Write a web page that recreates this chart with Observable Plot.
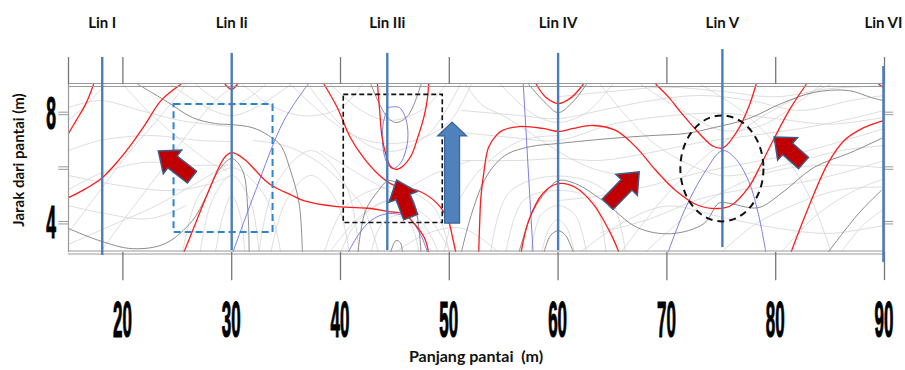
<!DOCTYPE html>
<html><head><meta charset="utf-8">
<script src="https://cdn.jsdelivr.net/npm/d3@7"></script>
<script src="https://cdn.jsdelivr.net/npm/@observablehq/plot@0.6"></script>
<style>body{margin:0;background:#fff;} svg{overflow:visible;}</style>
</head><body><div id="chart"></div>
<script>
// ---- axis / annotation data ----
const xTicks = [20, 30, 40, 50, 60, 70, 80, 90];
const topTicks = [15, 20, 30, 40, 50, 60, 70, 80, 90];
const yTickMarks = [8, 6, 4];
const yTickLabels = [8, 4];
const linNames = ["Lin I", "Lin Ii", "Lin IIi", "Lin IV", "Lin V", "Lin VI"];
const linX = [18.1, 30, 44.3, 60, 75.1, 89.9];
const linTop = [10.04, 10.19, 10.19, 10.19, 10.33, 9.71];
const linBottom = [2.79, 2.97, 2.97, 2.97, 3.08, 2.53];
const redArrowTail = [[26.4, 5.64], [46.5, 4.18], [64.6, 4.65], [82.6, 6.16]];
const redArrowTip = [[23.3, 6.60], [45.2, 5.53], [67.5, 5.83], [79.9, 7.11]];
const blueArrowTail = [50.3, 3.96];
const blueArrowTip = [50.3, 7.66];
const blueBox = [24.7, 33.8, 3.63, 8.32];   // x1, x2, y1, y2
const blackBox = [40.3, 49.4, 3.98, 8.67];
const ellipseCenter = [75.1, 5.96];
const ellipseRadius = [3.82, 1.94];

// ---- contour lines ----
const redLines = [
 [[17.3,9.05],[16.6,8.35],[15.7,7.73],[15.0,7.26]],
 [[25.3,9.05],[23.5,8.46],[22.1,7.62],[20.7,6.82],[19.6,6.27],[18.1,5.64],[16.6,5.24],[15.0,4.91]],
 [[25.6,2.90],[26.7,3.99],[27.9,5.17],[29.0,6.16],[29.5,6.45],[30.0,6.56],[30.5,6.49],[31.3,6.27],[32.2,5.90],[33.1,5.53],[34.0,5.28],[35.4,5.02],[36.6,4.80],[39.7,4.58],[42.8,4.51],[44.4,4.40],[45.8,4.32],[46.7,3.99],[47.7,3.45],[48.1,2.90]],
 [[38.5,9.05],[39.7,8.21],[40.9,7.11],[42.1,6.38],[43.4,5.79],[44.6,5.42],[46.0,5.24],[47.1,5.17],[48.9,4.69],[49.9,4.07],[50.3,3.45],[50.6,2.90]],
 [[43.4,9.05],[43.6,8.10],[43.8,7.18],[44.2,6.45],[44.6,6.05],[45.1,5.94],[45.7,6.05],[46.5,6.45],[47.1,7.11],[47.7,7.91],[48.0,8.57],[48.1,9.05]],
 [[29.4,9.05],[30.0,8.87],[30.5,9.05]],
 [[58.0,9.05],[58.9,8.57],[60.0,8.35],[61.2,8.57],[62.3,9.05]],
 [[52.7,2.90],[52.8,4.07],[52.9,4.91],[53.2,5.90],[53.6,6.74],[54.3,7.18],[54.9,7.37],[56.4,7.51],[58.6,7.44],[60.0,7.33],[61.4,7.44],[63.2,7.55],[65.3,7.37],[67.2,6.74],[69.0,5.90],[70.8,5.17],[72.9,4.62],[74.7,4.51],[75.9,4.62],[77.5,5.28],[78.7,6.16],[79.9,7.11],[81.4,8.21],[82.8,9.05]],
 [[56.6,2.90],[57.3,4.07],[58.6,5.06],[60.0,5.42],[61.6,5.28],[63.2,4.69],[64.7,3.70],[65.6,2.90]],
 [[69.0,9.05],[70.2,8.57],[71.3,8.02],[72.9,7.29],[74.3,6.78],[75.2,6.74],[76.5,7.37],[77.5,8.21],[78.2,9.05]],
 [[81.4,2.90],[83.0,4.54],[84.8,6.16],[86.3,7.00],[88.1,7.47],[89.9,7.73]],
 [[89.5,9.05],[89.9,8.94]]
];
const lilacLines = [
 [[37.0,9.05],[34.8,7.73],[32.2,5.17],[30.1,2.90]],
 [[44.4,8.21],[45.4,8.21],[46.0,7.80],[46.2,7.18],[46.0,6.63],[45.5,6.16],[44.8,5.97],[44.3,6.16],[43.9,6.74],[43.9,7.55],[44.1,7.91],[44.4,8.21]],
 [[40.7,2.90],[41.6,3.52],[42.8,4.07],[44.3,4.32],[46.2,4.18],[47.4,3.52],[48.0,2.90]],
 [[56.8,9.05],[57.7,2.90]],
 [[70.1,2.90],[71.6,4.43],[73.4,5.79],[75.1,6.63],[76.2,6.38],[77.5,5.53],[78.4,4.32],[79.1,2.90]]
];
const darkLines = [
 [[21.4,9.05],[23.9,8.46],[26.4,7.84],[28.5,7.62],[30.0,7.58],[31.9,7.47],[33.4,7.18],[34.5,6.82],[35.4,5.90],[36.2,4.69],[36.5,2.90]],
 [[15.0,3.78],[17.8,3.34],[20.9,3.04],[23.9,3.23],[26.4,4.07],[27.6,4.91],[28.8,5.90],[30.0,6.34],[31.0,5.90],[31.5,4.32],[31.6,2.90]],
 [[41.6,2.90],[42.3,4.43],[43.5,5.17],[44.4,5.53],[45.5,5.35],[46.7,4.80],[47.4,2.90]],
 [[42.8,9.05],[44.2,7.91],[45.1,7.66],[46.2,7.91],[47.4,9.05]],
 [[44.6,2.90],[45.1,3.34],[45.5,3.26],[45.7,2.90]],
 [[57.3,9.05],[58.9,8.35],[60.0,8.02],[61.2,8.35],[62.6,9.05]],
 [[51.1,2.90],[52.0,4.25],[53.2,5.53],[54.3,6.16],[55.4,6.52],[57.5,6.78],[60.0,6.89],[64.7,7.07],[68.5,7.18],[71.8,7.26],[74.3,7.47],[77.5,7.80],[80.5,8.35],[83.5,8.76],[86.7,8.83],[88.8,8.57],[89.9,8.46]],
 [[56.4,2.90],[57.5,4.25],[58.6,4.98],[60.0,5.53],[61.6,5.42],[64.1,4.80],[67.3,3.81],[70.4,3.59],[73.4,3.96],[74.7,4.69],[75.2,4.73],[75.9,4.69],[78.4,4.54],[80.5,5.06],[83.5,6.01],[86.9,6.56],[89.9,7.11]],
 [[58.7,2.90],[59.3,3.52],[60.0,3.70],[60.7,3.52],[61.4,2.90]],
 [[84.8,2.90],[87.6,4.32],[89.7,5.17]]
];
const lightLines = [
 [[15,8.21],[17.9,8.46],[21.6,8.10],[25.3,7.73],[29.9,7.51]],
 [[15,6.63],[17.9,7.00],[22.5,7.18],[27.1,7.00],[29.9,6.96]],
 [[15,5.72],[19.8,5.35],[24.4,5.17],[28.1,5.42],[29.9,5.72]],
 [[15,4.62],[17.9,4.36],[22.5,4.14],[25.8,4.62]],
 [[15,3.63],[17.9,5.17],[20.7,6.63],[23.5,7.91],[25.8,9.05]],
 [[17.9,2.90],[20.7,4.43],[23.5,5.90],[26.2,7.37],[28.5,8.46],[30.4,9.05]],
 [[15,7.73],[17.0,8.46],[18.4,9.05]],
 [[27.1,2.90],[28.2,4.80],[30.0,5.72],[31.7,4.80],[32.5,2.90]],
 [[28.5,2.90],[29.2,4.25],[30.0,4.98],[30.8,4.25],[31.2,2.90]],
 [[26.7,9.05],[30.0,8.28],[33.1,9.05]],
 [[24.4,9.05],[30.0,7.91],[35.4,9.05]],
 [[32.5,2.90],[34.0,5.35],[37.3,6.63],[40.5,5.35],[41.7,2.90]],
 [[33.6,2.90],[35.0,4.80],[37.3,5.72],[39.6,4.80],[40.8,2.90]],
 [[35.4,9.05],[39.1,7.73],[41.9,7.07],[44.4,6.89],[47.4,7.07],[50.1,7.73],[52.0,9.05]],
 [[39.1,9.05],[41.9,8.10],[44.4,7.73],[47.4,8.10],[49.7,9.05]],
 [[39.1,2.97],[41.9,4.25],[45.1,4.98],[48.3,5.72],[52.0,6.27]],
 [[38.2,6.63],[41.9,5.72],[45.1,4.98],[48.3,4.07],[50.1,2.90]],
 [[42.8,2.90],[43.7,3.89],[45.1,4.25],[46.5,3.89],[47.2,2.90]],
 [[51.1,8.10],[56.6,7.91],[60.0,7.80],[63.9,8.10],[68.5,8.46],[73.1,8.65],[77.7,8.46],[82.3,8.10],[86.9,8.46],[90,8.65]],
 [[51.1,6.27],[56.6,6.27],[60.0,6.34],[63.9,6.27],[68.5,6.56],[73.1,6.93],[77.7,7.18],[82.3,7.44],[86.9,7.80],[90,8.10]],
 [[60.0,4.80],[63.9,4.98],[68.5,5.35],[73.1,5.83],[77.7,6.19],[82.3,6.56],[86.9,7.07],[90,7.44]],
 [[63.9,3.63],[68.5,4.14],[73.1,4.87],[77.7,5.24],[82.3,5.46],[86.9,5.90],[90,6.27]],
 [[80.5,2.90],[83.7,4.25],[86.9,5.09],[90,5.61]],
 [[86.0,2.90],[88.0,3.89],[90,4.51]],
 [[57.5,2.90],[58.4,4.25],[60.0,4.62],[61.6,4.25],[62.6,2.90]],
 [[55.2,2.90],[56.8,4.80],[60.0,5.17],[63.2,4.80],[64.4,2.90]],
 [[54.7,9.05],[57.5,8.02],[60.0,7.66],[62.6,8.02],[65.0,9.05]],
 [[67.6,9.05],[72.2,7.91],[75.0,7.37],[78.7,7.55],[82.3,8.46],[84.2,9.05]],
 [[65.8,2.90],[69.5,4.80],[73.1,6.27],[76.8,7.37],[81.4,8.46],[85.1,9.05]],
 [[73.1,9.05],[76.8,8.10],[80.5,6.63],[83.3,4.80],[85.1,2.90]],
 [[49.5,2.90],[50.9,4.80],[53.2,6.08],[56.6,7.00],[60.0,7.18]],
 [[63.9,9.05],[65.8,8.10],[68.5,7.00],[71.3,6.27],[75.0,5.72],[78.7,5.90],[82.3,6.27],[86.0,6.63],[90,6.82]],
 [[40.0,2.90],[41.5,4.00],[44.4,4.80],[47.5,4.00],[49.0,2.90]],
 [[38.5,2.90],[40.5,4.60],[44.4,5.30],[48.5,4.60],[50.0,2.90]],
 [[37.0,9.05],[40.5,7.40],[44.4,6.60],[48.0,7.20],[51.0,9.05]],
 [[58.5,2.90],[59.2,3.80],[60.0,4.10],[60.8,3.80],[61.5,2.90]],
 [[53.8,2.90],[55.5,5.10],[60.0,5.70],[64.5,5.10],[66.2,2.90]],
 [[60.0,8.60],[65.0,8.80],[70.0,8.95],[75.0,8.80],[80.0,8.60],[85.0,8.90],[90,9.00]],
 [[51.0,7.30],[56.0,7.10],[60.0,7.00],[65.0,7.60],[70.0,7.90],[75.0,8.00],[80.0,7.80],[85.0,7.60],[90,7.85]],
 [[68.0,2.90],[72.0,4.30],[76.0,5.30],[80.0,5.90],[85.0,6.10],[90,6.00]],
 [[75.0,2.90],[78.0,3.90],[82.0,4.70],[86.0,5.20],[90,5.30]],
 [[62.0,2.90],[66.0,4.00],[70.0,4.60],[75.0,4.20],[80.0,3.80],[85.0,3.60],[90,3.90]],
 [[15.0,5.20],[18.0,5.80],[22.0,6.20],[26.0,6.10],[29.9,6.10]],
 [[15.0,3.20],[19.0,3.90],[23.0,4.60],[27.0,5.50],[29.5,6.10]],
 [[20.0,9.05],[22.5,8.00],[26.0,6.80],[28.0,6.20],[29.5,5.90]],
 [[25.5,2.90],[27.0,5.00],[30.0,6.00],[33.0,5.00],[34.5,2.90]],
 [[31.0,9.05],[34.0,8.20],[37.0,7.90],[40.0,8.20],[42.0,9.05]],
 [[32.0,7.00],[35.0,6.80],[38.0,6.20],[40.0,5.50],[42.0,4.60],[43.5,2.90]],
 [[51.5,9.05],[53.0,8.30],[55.0,7.90],[57.0,7.40],[60.0,6.60],[63.0,6.00],[66.0,5.70]],
 [[45.0,2.90],[48.0,3.60],[51.0,3.80],[53.0,3.40],[54.5,2.90]]
];

const flat = lines => lines.flatMap((pts, i) => pts.map(([x, y]) => ({x, y, id: i})));
const linData = linNames.map((name, i) => ({name, x: linX[i], top: linTop[i], bottom: linBottom[i]}));
const lineOpts = {x: "x", y: "y", z: "id", curve: "catmull-rom", clip: true};

const chart = Plot.plot({
  width: 905, height: 370,
  marginLeft: 68, marginRight: 21, marginTop: 84, marginBottom: 118,
  x: {domain: [15, 90], axis: null},
  y: {domain: [2.9, 9.05], axis: null},
  style: {background: "#fff", overflow: "visible"},
  marks: [
    Plot.line(flat(lightLines), {...lineOpts, stroke: "#d4d4d4", strokeWidth: 0.8}),
    Plot.line(flat(darkLines), {...lineOpts, stroke: "#7f7f7f", strokeWidth: 0.9}),
    Plot.line(flat(lilacLines), {...lineOpts, stroke: "#6f6fe6", strokeWidth: 0.9}),
    Plot.line(flat(redLines), {...lineOpts, stroke: "#ff1c1c", strokeWidth: 1.3}),
    Plot.ruleY([9.05], {stroke: "#9a9a9a", strokeWidth: 1.2, dy: -1}),
    Plot.ruleY([9.05], {stroke: "#9a9a9a", strokeWidth: 1.2, dy: 2}),
    Plot.ruleY([2.9], {stroke: "#9a9a9a", strokeWidth: 1.2, dy: -1.5}),
    Plot.ruleY([2.9], {stroke: "#9a9a9a", strokeWidth: 1.2, dy: 1.5}),
    Plot.ruleX([15, 90], {stroke: "#9a9a9a", strokeWidth: 1.2}),
    Plot.ruleX(topTicks, {y1: 9.05, y2: 10.04, stroke: "#777", strokeWidth: 1.3}),
    Plot.ruleX(xTicks, {y1: 2.9, y2: 1.87, stroke: "#777", strokeWidth: 1.3}),
    Plot.ruleY(yTickMarks, {x1: 14.1, x2: 15, stroke: "#9a9a9a", dy: -1}),
    Plot.ruleY(yTickMarks, {x1: 14.1, x2: 15, stroke: "#9a9a9a", dy: 1.5}),
    Plot.ruleY(yTickMarks, {x1: 90, x2: 90.85, stroke: "#9a9a9a", dy: -1}),
    Plot.ruleY(yTickMarks, {x1: 90, x2: 90.85, stroke: "#9a9a9a", dy: 1.5}),
    Plot.rect([{x1: blueBox[0], x2: blueBox[1], y1: blueBox[2], y2: blueBox[3]}],
      {x1: "x1", x2: "x2", y1: "y1", y2: "y2", fill: "none", stroke: "#2e82d4", strokeWidth: 2, strokeDasharray: "7,4"}),
    Plot.rect([{x1: blackBox[0], x2: blackBox[1], y1: blackBox[2], y2: blackBox[3]}],
      {x1: "x1", x2: "x2", y1: "y1", y2: "y2", fill: "none", stroke: "#111", strokeWidth: 1.6, strokeDasharray: "5,3"}),
    Plot.ruleX(linData, {x: "x", y1: "top", y2: "bottom", stroke: "#4a7ebb", strokeWidth: 2.4}),
    Plot.text(linData, {x: "x", y: 11.3, text: "name", fontSize: 15, fontWeight: "bold", fontFamily: "Lato", fill: "#111"})
  ]
});

document.getElementById("chart").appendChild(chart);
const X = chart.scale("x"), Y = chart.scale("y");
const svg = d3.select(chart);
const px = ([x, y]) => [X.apply(x), Y.apply(y)];

// ellipse
svg.append("ellipse")
  .attr("cx", X.apply(ellipseCenter[0])).attr("cy", Y.apply(ellipseCenter[1]))
  .attr("rx", X.apply(ellipseCenter[0] + ellipseRadius[0]) - X.apply(ellipseCenter[0]))
  .attr("ry", Y.apply(ellipseCenter[1] - ellipseRadius[1]) - Y.apply(ellipseCenter[1]))
  .attr("fill", "none").attr("stroke", "#111").attr("stroke-width", 2).attr("stroke-dasharray", "7,5");

// block arrows
function arrowPath(tail, tip, shaftHalf, headHalf, headLen) {
  const [tx, ty] = px(tail), [hx, hy] = px(tip);
  const dx = hx - tx, dy = hy - ty, L = Math.hypot(dx, dy);
  const ux = dx / L, uy = dy / L, nx = -uy, ny = ux;
  const bx = tx + ux * (L - headLen), by = ty + uy * (L - headLen);
  const p = [
    [tx + nx * shaftHalf, ty + ny * shaftHalf],
    [bx + nx * shaftHalf, by + ny * shaftHalf],
    [bx + nx * headHalf, by + ny * headHalf],
    [hx, hy],
    [bx - nx * headHalf, by - ny * headHalf],
    [bx - nx * shaftHalf, by - ny * shaftHalf],
    [tx - nx * shaftHalf, ty - ny * shaftHalf]
  ];
  return "M" + p.map(q => q.join(",")).join("L") + "Z";
}
redArrowTail.forEach((t, i) => {
  svg.append("path").attr("d", arrowPath(t, redArrowTip[i], 7.5, 15, 18))
    .attr("fill", "#c00000").attr("stroke", "#3f5b84").attr("stroke-width", 1.5).attr("stroke-linejoin", "miter");
});
svg.append("path").attr("d", arrowPath(blueArrowTail, blueArrowTip, 7.5, 14.5, 14))
  .attr("fill", "#4f81bd").attr("stroke", "#3a639a").attr("stroke-width", 1.2);

// condensed bold tick labels
const digitFont = "'Liberation Sans', Arial, sans-serif";
svg.append("g").selectAll("text").data(xTicks).join("text")
  .attr("transform", d => `translate(${X.apply(d)},${Y.apply(2.9) + 85}) scale(0.34,1)`)
  .attr("text-anchor", "middle").attr("font-family", digitFont).attr("font-weight", "bold")
  .attr("font-size", 50).attr("fill", "#000").attr("stroke", "#000").attr("stroke-width", 1.2)
  .text(d => d);
svg.append("g").selectAll("text").data(yTickLabels).join("text")
  .attr("transform", d => `translate(${X.apply(15) - 17},${Y.apply(d) + 16}) scale(0.38,1)`)
  .attr("text-anchor", "middle").attr("font-family", digitFont).attr("font-weight", "bold")
  .attr("font-size", 46).attr("fill", "#000").attr("stroke", "#000").attr("stroke-width", 1.2)
  .text(d => d);

// axis titles
svg.append("text").attr("transform", `translate(24,${(Y.apply(9.05) + Y.apply(2.9)) / 2 - 8}) rotate(-90)`)
  .attr("text-anchor", "middle").attr("font-family", "Lato").attr("font-weight", "bold")
  .attr("font-size", 15).attr("fill", "#111").text("Jarak dari pantai (m)");
svg.append("text").attr("x", 476).attr("y", 362).style("white-space", "pre")
  .attr("text-anchor", "middle").attr("font-family", "Lato").attr("font-weight", "bold")
  .attr("font-size", 16).attr("fill", "#111").text("Panjang pantai  (m)");
</script>
</body></html>
